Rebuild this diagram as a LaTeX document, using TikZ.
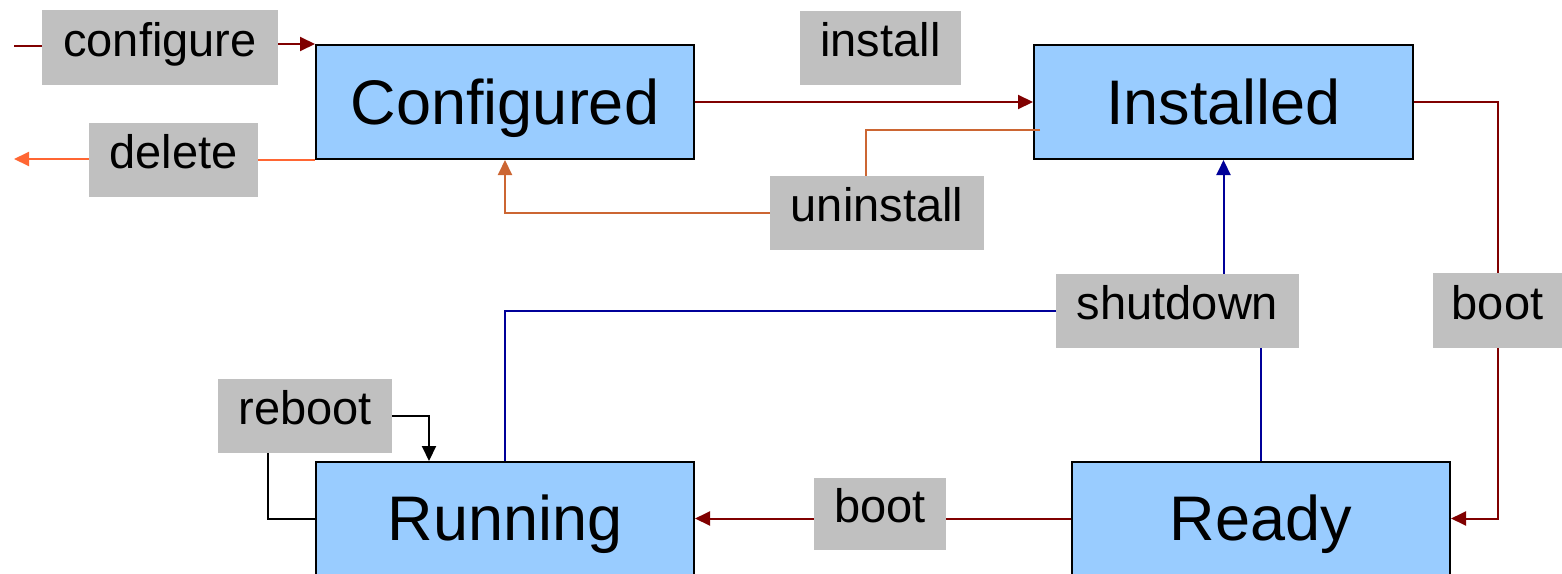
\documentclass[tikz,border=0pt]{standalone}
\usepackage{fontspec}
\setmainfont{Liberation Sans}
\usetikzlibrary{arrows.meta}
\definecolor{stateblue}{HTML}{99CCFF}
\definecolor{labelgray}{HTML}{C0C0C0}
\definecolor{bootred}{HTML}{800000}
\definecolor{delorange}{HTML}{FF6633}
\definecolor{unorange}{HTML}{CC6633}
\definecolor{downblue}{HTML}{000099}
\tikzset{
  state/.style={draw=black, line width=2pt, fill=stateblue, inner sep=0pt,
    minimum width=378pt, minimum height=114pt,
    text height=48pt, text depth=4pt,
    font=\fontsize{63}{75}\selectfont},
  trans/.style={fill=labelgray, inner sep=0pt,
    text height=28pt, text depth=11pt,
    font=\fontsize{47}{56}\selectfont},
  conn/.style={line width=2pt},
  tip/.style={-{Triangle[length=15pt,width=14pt]}}
}
\begin{document}
\begin{tikzpicture}[x=1pt,y=-1pt]
\useasboundingbox (0,0) rectangle (1562,573);
\clip (0,0) rectangle (1562,573);

% states
\node[state] (Configured) at (505,102) {Configured};
\node[state, minimum width=379pt] (Installed) at (1223.5,102) {Installed};
\node[state, minimum height=113pt] (Running) at (505,518.5) {Running};
\node[state, minimum height=113pt] (Ready) at (1261,518.5) {Ready};

% transition labels
\node[trans, minimum width=236pt, minimum height=75pt] (configure) at (160,47.5) {configure};
\node[trans, minimum width=161pt, minimum height=74pt] (install) at (880.5,48) {install};
\node[trans, minimum width=169pt, minimum height=74pt] (delete) at (173.5,160) {delete};
\node[trans, minimum width=214pt, minimum height=74pt] (uninstall) at (877,213) {uninstall};
\node[trans, minimum width=243pt, minimum height=74pt] (shutdown) at (1177.5,311) {shutdown};
\node[trans, minimum width=129pt, minimum height=75pt] (bootR) at (1497.5,310.5) {boot};
\node[trans, minimum width=174pt, minimum height=74pt] (reboot) at (305,416) {reboot};
\node[trans, minimum width=132pt, minimum height=72pt] (bootB) at (880,514) {boot};

% free ends
\coordinate (cfgin) at (14,46);
\coordinate (delout) at (14,159);
\coordinate (unx) at (866,130);

% configure
\draw[conn, bootred] (cfgin) -- (configure.west |- cfgin);
\draw[conn, bootred, tip] (configure.east |- Configured.north west) -- (Configured.north west);

% install
\draw[conn, bootred, tip] (Configured.east) -- (Installed.west);

% delete
\draw[conn, delorange] (Configured.south west) -- (delete.east |- Configured.south west);
\draw[conn, delorange, tip] (delete.west |- delout) -- (delout);

% uninstall
\draw[conn, unorange] ([xshift=7pt]Installed.west |- unx) -| (unx |- uninstall.north);
\draw[conn, unorange, tip] (uninstall.west) -| (Configured.south);

% shutdown
\draw[conn, downblue] (Ready.north) -- (Ready.north |- shutdown.south);
\draw[conn, downblue] (Running.north) |- (shutdown.west);
\draw[conn, downblue, tip] (shutdown.north -| Installed.south) -- (Installed.south);

% boot (Installed -> Ready)
\draw[conn, bootred] (Installed.east) -| (bootR.north);
\draw[conn, bootred, tip] (bootR.south) |- (Ready.east);

% boot (Ready -> Running)
\draw[conn, bootred] (Ready.west) -- (bootB.east |- Ready.west);
\draw[conn, bootred, tip] (bootB.west |- Running.east) -- (Running.east);

% reboot
\draw[conn, black] (Running.west) -| ([xshift=-37pt]reboot.south);
\draw[conn, black, tip] (reboot.east) -| ([xshift=-76pt]Running.north);
\end{tikzpicture}
\end{document}
